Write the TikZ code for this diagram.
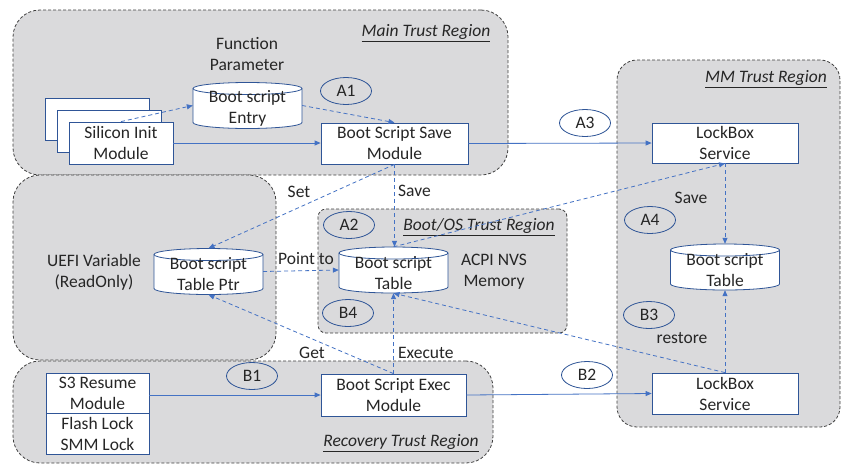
\documentclass[tikz,border=0pt]{standalone}
\usepackage{fontspec}
\setmainfont{Carlito}
\usetikzlibrary{shapes.geometric,arrows.meta}
\definecolor{arrowblue}{RGB}{68,114,196}
\definecolor{boxblue}{RGB}{47,85,151}
\definecolor{regfill}{RGB}{218,218,220}
\definecolor{txt}{RGB}{38,38,38}
\tikzset{
  region/.style={draw=black!75, dash pattern=on 3pt off 2pt, fill=regfill, line width=0.8pt, inner sep=0pt},
  box/.style={draw=boxblue, fill=white, line width=0.8pt, inner sep=0pt, align=center, text=txt},
  cylsty/.style={draw=boxblue, fill=white, line width=0.8pt},
  cyltext/.style={inner sep=0pt, minimum width=109pt, minimum height=46pt, align=center, text=txt},
  tag/.style={ellipse, draw=boxblue, line width=0.8pt, minimum width=51pt, minimum height=27pt, inner sep=0pt, text=txt},
  lbl/.style={inner sep=0pt, align=center, text=txt},
  conn/.style={draw=arrowblue, line width=0.8pt, -{Triangle[length=6pt,width=5pt]}},
  dconn/.style={conn, dash pattern=on 4pt off 3pt},
}
\newcommand\dbcyl[4]{%
  \filldraw[cylsty] (#2-54.5,#3-17) -- (#2-54.5,#3+17)
    arc[start angle=180,end angle=360,x radius=54.5pt,y radius=6pt]
    -- (#2+54.5,#3-17)
    arc[start angle=0,end angle=180,x radius=54.5pt,y radius=6pt] -- cycle;
  \draw[cylsty, fill=none] (#2-54.5,#3-17)
    arc[start angle=180,end angle=360,x radius=54.5pt,y radius=6pt];
  \node[cyltext] (#1) at (#2,#3) {};
  \node[lbl] (#1-text) at (#2,#3+3) {#4};
}
\begin{document}
\begin{tikzpicture}[x=1pt,y=-1pt, font=\fontsize{17.5}{21}\selectfont]
\useasboundingbox[fill=white] (0,0) rectangle (853,475);

% regions
\node[region, rounded corners=27pt, minimum width=495pt, minimum height=165pt] (mainreg) at (260.5,92.5) {};
\node[region, rounded corners=27pt, minimum width=263pt, minimum height=185pt] (uefireg) at (144.5,267.5) {};
\node[region, rounded corners=27pt, minimum width=480pt, minimum height=102pt] (recreg) at (253,412) {};
\node[region, rounded corners=8pt, minimum width=249pt, minimum height=124pt] (bootreg) at (442.5,271) {};
\node[region, rounded corners=20pt, minimum width=223pt, minimum height=367pt] (mmreg) at (728.5,243.5) {};

% region titles
\node[lbl] (maintitle) at (426,33) {\underline{\textit{Main Trust Region}}};
\node[lbl] (mmtitle) at (766,79) {\underline{\textit{MM Trust Region}}};
\node[lbl] (boottitle) at (479,227) {\underline{\textit{Boot/OS Trust Region}}};
\node[lbl] (rectitle) at (401,443) {\underline{\textit{Recovery Trust Region}}};

% pages
\node[box, minimum width=104pt, minimum height=42pt] (pg1) at (97.5,119) {};
\node[box, minimum width=104pt, minimum height=42pt] (pg2) at (109,131) {};
\node[box, minimum width=104pt, minimum height=42pt] (si) at (121,143) {Silicon Init\\Module};

% boxes
\node[box, minimum width=147pt, minimum height=41pt] (save) at (394.5,143.5) {Boot Script Save\\Module};
\node[box, minimum width=146pt, minimum height=40pt] (lb1) at (725,143) {LockBox\\Service};
\node[box, minimum width=146pt, minimum height=41pt] (lb2) at (725,393.5) {LockBox\\Service};
\node[box, minimum width=145pt, minimum height=42pt] (exec) at (393.5,395) {Boot Script Exec\\Module};
\node[box, minimum width=103pt, minimum height=40pt] (s3) at (97.5,393) {S3 Resume\\Module};
\node[box, minimum width=103pt, minimum height=41pt] (lock) at (97.5,433.5) {Flash Lock\\SMM Lock};

% cylinders
\dbcyl{entry}{247.5}{105.5}{Boot script\\Entry}
\dbcyl{ptr}{208.5}{271.5}{Boot script\\Table Ptr}
\dbcyl{table}{393.5}{270}{Boot script\\Table}
\dbcyl{mmtable}{725}{267}{Boot script\\Table}

% plain labels
\node[lbl] (funcparam) at (247,54) {Function\\Parameter};
\node[lbl] (uefivar) at (94,272) {UEFI Variable\\(ReadOnly)};
\node[lbl] (acpi) at (494,272) {ACPI NVS\\Memory};
\node[lbl] (setl) at (299,192) {Set};
\node[lbl, anchor=west] (savel) at (398,191) {Save};
\node[lbl] (pointl) at (306,259) {Point to};
\node[lbl] (getl) at (312,353) {Get};
\node[lbl, anchor=west] (execl) at (398,353) {Execute};
\node[lbl] (mmsavel) at (691,198) {Save};
\node[lbl] (restl) at (682,338) {restore};

% tags
\node[tag] (a1) at (346,91) {A1};
\node[tag] (a2) at (349,225) {A2};
\node[tag] (a3) at (585,123) {A3};
\node[tag] (a4) at (650,220) {A4};
\node[tag] (b1) at (252,376) {B1};
\node[tag] (b2) at (587,375) {B2};
\node[tag] (b3) at (649,315) {B3};
\node[tag] (b4) at (348,313) {B4};

% connectors
\draw[conn] (si.east) -- (si.east -| save.west);
\draw[dconn] (si.north) -- (entry.west);
\draw[dconn] (entry.east) -- (save.north);
\draw[conn] (save.east) -- (lb1.west);
\draw[dconn] (save.south) -- (save.south |- table.north);
\draw[dconn] (save.south) -- (ptr.north);
\draw[dconn] (ptr.east) -- (table.west);
\draw[dconn] (table.north) -- (lb1.south);
\draw[dconn] (lb1.south) -- (mmtable.north);
\draw[dconn] (lb2.north) -- (mmtable.south);
\draw[dconn] (lb2.north) -- (table.south);
\draw[conn] (s3.east |- exec.west) -- (exec.west);
\draw[conn] (exec.east) -- (lb2.west);
\draw[dconn] (exec.north) -- (exec.north |- table.south);
\draw[dconn] (exec.north) -- (ptr.south);
\end{tikzpicture}
\end{document}
